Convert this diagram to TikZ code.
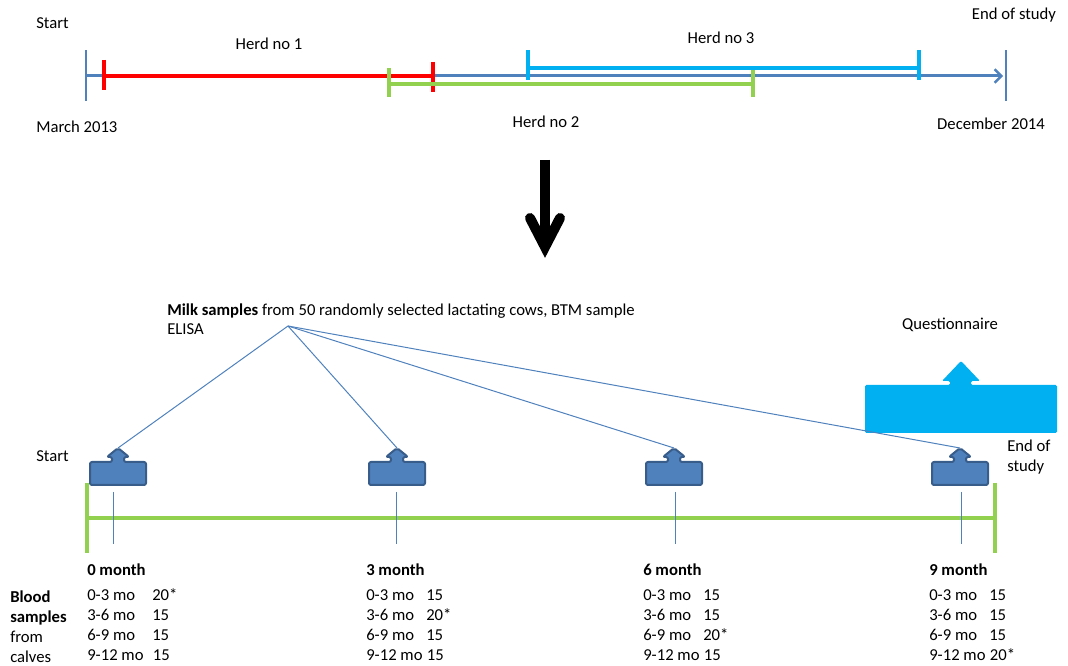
\documentclass[tikz,border=0pt]{standalone}
\usepackage{fontspec}
\setmainfont{Carlito}
\usetikzlibrary{arrows.meta}
\definecolor{axisblue}{HTML}{4F81BD}
\definecolor{iconedge}{HTML}{385D8A}
\definecolor{herdred}{HTML}{FF0000}
\definecolor{herdgreen}{HTML}{92D050}
\definecolor{herdcyan}{HTML}{00B0F0}
% sample icon: #1 name of its tip, #2 centre x, #3 top of the box
\newcommand{\upicon}[3]{
	\draw[icon] (#2-28,#3) -- (#2-6,#3) -- (#2-6,#3-5) -- (#2-11,#3-5) -- (#2,#3-14)
		-- (#2+11,#3-5) -- (#2+6,#3-5) -- (#2+6,#3) -- (#2+28,#3)
		-- (#2+28,#3+23) -- (#2-28,#3+23) -- cycle;
	\coordinate (#1) at (#2,#3-14);
}

\begin{document}
\begin{tikzpicture}[x=0.75pt, y=-0.75pt, font=\fontsize{12.5}{15}\selectfont,
		txt/.style={anchor=west, inner sep=0pt},
		lbl/.style={inner sep=0pt},
		icon/.style={fill=axisblue, draw=iconedge, line width=1.5pt, rounded corners=1.5pt, line join=round},
		link/.style={draw=axisblue, line width=0.75pt}]
	\useasboundingbox (0,0) rectangle (1068,666);

	% top time line
	\coordinate (a0) at (86,76);
	\coordinate (a1) at (1003,76);
	\draw[axisblue, line width=2.25pt, -{Straight Barb[length=5pt, width=10pt, line width=1.8pt]}] (a0) -- (a1);
	\draw[axisblue, line width=1.5pt] (86,50) -- (86,101);
	\draw[axisblue, line width=1pt] (1006,50) -- (1006,101);

	\draw[herdred, line width=2.4pt] (104,60) -- (104,90);
	\draw[herdred, line width=2.4pt] (433,62) -- (433,92);
	\draw[herdred, line width=2.4pt] (104,76) -- (433,76);

	\draw[herdgreen, line width=3pt] (389,68) -- (389,97);
	\draw[herdgreen, line width=3pt] (753,70) -- (753,97);
	\draw[herdgreen, line width=3pt] (389,84) -- (753,84);

	\draw[herdcyan, line width=2.4pt] (528,50) -- (528,80);
	\draw[herdcyan, line width=2.4pt] (919,50) -- (919,80);
	\draw[herdcyan, line width=2.4pt] (528,68) -- (919,68);

	\node (st1) at (36,23)    [txt] {Start};
	\node (mar) at (36,127)   [txt] {March 2013};
	\node (h1)  at (269,44)   [lbl] {Herd no 1};
	\node (h2)  at (546,122)  [lbl] {Herd no 2};
	\node (h3)  at (721,38)   [lbl] {Herd no 3};
	\node (en1) at (1014,15)  [lbl] {End of study};
	\node (dec) at (991,124)  [lbl] {December 2014};

	% big arrow down
	\draw[black, line width=7.5pt] (545,160) -- (545,246);
	\draw[black, line width=7.5pt, line cap=round, line join=miter] (530,218) -- (545,247) -- (560,218);

	% questionnaire
	\node (q) at (950,325) [lbl] {Questionnaire};
	\fill[herdcyan, rounded corners=1pt] (865,385) -- (950,385) -- (950,381) -- (942,381) -- (961,361)
		-- (980,381) -- (971,381) -- (971,385) -- (1057,385) -- (1057,433) -- (865,433) -- cycle;

	% milk samples
	\node (milktxt) at (167,319.5) [txt, align=left, font=\fontsize{12.5}{14.25}\selectfont]
		{\textbf{Milk samples} from 50 randomly selected lactating cows, BTM sample\\ELISA};
	\coordinate (milk) at (288,326);
	\upicon{t0}{118}{462}
	\upicon{t3}{397}{462}
	\upicon{t6}{674}{462}
	\upicon{t9}{960}{462}
	\foreach \t in {t0,t3,t6,t9}
		\draw[link] (milk) -- (\t);

	% bottom time line
	\draw[herdgreen, line width=3pt] (87,483) -- (87,553);
	\draw[herdgreen, line width=3pt] (995,483) -- (995,553);
	\draw[herdgreen, line width=3pt] (87,518) -- (995,518);
	\foreach \x in {113,396,675,961}
		\draw[axisblue, line width=0.75pt] (\x,492) -- (\x,544);

	\node (st2) at (36,456)   [txt] {Start};
	\node (en2) at (1007,457) [txt, align=left] {End of\\study};

	\node (blood) at (10,591) [anchor=north west, inner sep=0pt, align=left]
		{\textbf{Blood}\\\textbf{samples}\\from\\calves};

	% blood samples per visit
	\foreach \m/\x/\o/\p/\ua/\ub/\uc/\ud in {0/87/65/7/20*/15/15/15, 3/366/60/3.2/15/20*/15/15,
			6/643/60/3.2/15/15/20*/15, 9/929/60/3.2/15/15/15/20*} {
		\node (m\m) at (\x,570) [txt, font=\fontsize{12.5}{15}\selectfont\bfseries] {\m\ month};
		\node (a\m) at (\x,595) [txt] {0-3 mo};
		\node (b\m) at (\x,615) [txt] {3-6 mo};
		\node (c\m) at (\x,635) [txt] {6-9 mo};
		\node (d\m) at (\x,655) [txt] {9-12 mo\hspace{\p pt}\ud};
		\node (na\m) at (\x+\o,595) [txt] {\ua};
		\node (nb\m) at (\x+\o,615) [txt] {\ub};
		\node (nc\m) at (\x+\o,635) [txt] {\uc};
	}
\end{tikzpicture}
\end{document}
